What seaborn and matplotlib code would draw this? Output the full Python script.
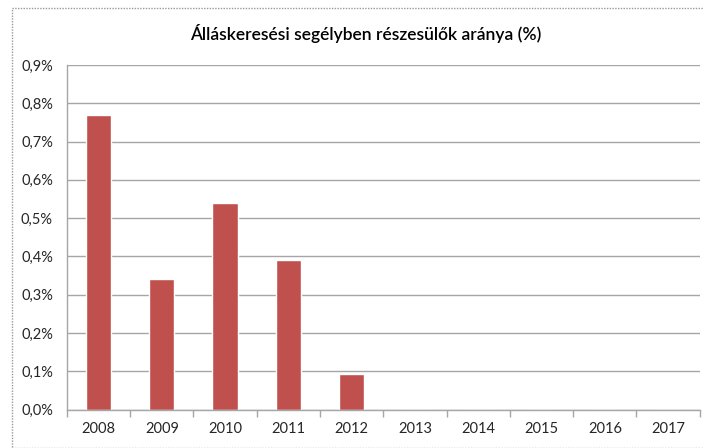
import matplotlib
matplotlib.use("Agg")
import matplotlib.pyplot as plt
import seaborn as sns
import pandas as pd
import numpy as np
from matplotlib.ticker import FuncFormatter, FixedLocator
from matplotlib.patches import Rectangle

# data (percent)
years = ["2008", "2009", "2010", "2011", "2012", "2013", "2014", "2015", "2016", "2017"]
rates = [0.77, 0.34, 0.54, 0.39, 0.094, 0, 0, 0, 0, 0]
title = "Álláskeresési segélyben részesülők aránya (%)"

df = pd.DataFrame({"ev": years, "arany": rates})

sns.set_theme(style="white")
plt.rcParams["font.family"] = ["Lato", "DejaVu Sans"]

fig = plt.figure(figsize=(7.04, 4.48), dpi=100)
ax = fig.add_axes([0.095, 0.0855, 0.899, 0.7695])

sns.barplot(data=df, x="ev", y="arany", order=years, color="#C0504D",
            width=0.4, saturation=1, ax=ax)

ax.set_ylim(0, 0.9)
ax.set_xlim(-0.5, len(years) - 0.5)
ax.set_yticks(np.arange(0, 0.91, 0.1))
ax.yaxis.set_major_formatter(FuncFormatter(lambda v, p: f"{v:.1f}%".replace(".", ",")))
ax.yaxis.grid(True, color="#A6A6A6", linewidth=1)
ax.set_axisbelow(True)
ax.set_xlabel("")
ax.set_ylabel("")

for s in ["top", "right"]:
    ax.spines[s].set_visible(False)
for s in ["left", "bottom"]:
    ax.spines[s].set_color("#A6A6A6")
    ax.spines[s].set_linewidth(1)

ax.tick_params(axis="x", which="major", length=0, pad=9, labelsize=10.5, colors="#262626")
ax.tick_params(axis="y", which="major", length=5, color="#A6A6A6", pad=5,
               labelsize=10.5, colors="#262626")
ax.xaxis.set_minor_locator(FixedLocator(np.arange(-0.5, len(years), 1.0)))
ax.tick_params(axis="x", which="minor", length=5, color="#A6A6A6", width=1, bottom=True)

fig.text(0.52, 0.925, title, ha="center", va="center", fontsize=12.5,
         fontweight="semibold", color="#000000")

# outer chart frame
fig.patches.append(Rectangle((0.017, 0.0), 0.985, 0.982, transform=fig.transFigure,
                             fill=False, edgecolor="#9A9A9A", linewidth=1, linestyle=(0, (1, 1))))

fig.savefig("out.png", dpi=100)
